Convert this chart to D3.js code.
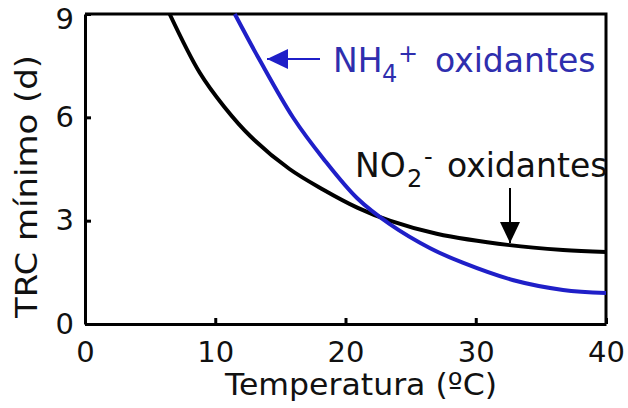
<!DOCTYPE html>
<meta charset="utf-8"/>
<style>
  body { margin: 0; background: #fff; }
  svg text { font-family: "DejaVu Sans", Verdana, sans-serif; }
  .axis path, .axis line { stroke: #000; stroke-width: 3px; }
  .axis text { font-size: 29px; fill: #111; }
</style>
<svg width="628" height="408"></svg>
<script src="https://cdnjs.cloudflare.com/ajax/libs/d3/7.8.5/d3.min.js"></script>
<script>

  // values
  var xTicks = [0, 10, 20, 30, 40];
  var yTicks = [0, 3, 6, 9];

  var no2Temp = [6.5, 8.8, 10.7, 12.7, 15.7, 18.3, 20.9, 23.4, 27.0, 32.6, 36.7, 40];
  var no2Trc  = [9.0, 7.3, 6.3, 5.45, 4.5, 3.9, 3.38, 3.0, 2.62, 2.29, 2.15, 2.09];

  var nh4Temp = [11.5, 13.4, 16.0, 18.3, 20.9, 23.4, 26.5, 29.0, 32.9, 36.7, 40];
  var nh4Trc  = [9.0, 7.67, 5.98, 4.8, 3.65, 2.9, 2.2, 1.78, 1.27, 0.99, 0.90];

  var blue = "#1f1fc8";

  var svg = d3.select("svg"),
    margin = {top: 14, right: 22, bottom: 84, left: 85},
    width = +svg.attr("width") - margin.left - margin.right,
    height = +svg.attr("height") - margin.top - margin.bottom;

  // arrow heads
  svg.append("defs").selectAll("marker")
    .data([{id: "arrBlack", c: "#000"}, {id: "arrBlue", c: blue}])
    .enter().append("marker")
    .attr("id", function (d) { return d.id; })
    .attr("viewBox", "0 -5 10 10")
    .attr("refX", 10)
    .attr("refY", 0)
    .attr("markerWidth", 21)
    .attr("markerHeight", 20)
    .attr("markerUnits", "userSpaceOnUse")
    .attr("orient", "auto")
    .attr("preserveAspectRatio", "none")
    .append("path")
    .attr("d", "M0,-5L10,0L0,5Z")
    .attr("fill", function (d) { return d.c; });

  var g = svg.append("g").attr("transform", "translate(" + margin.left + "," + margin.top + ")");

  var x = d3.scaleLinear().domain([0, 40]).range([0, width]);
  var y = d3.scaleLinear().domain([0, 9]).range([height, 0]);

  g.append("g")
    .attr("class", "axis")
    .attr("transform", "translate(0," + height + ")")
    .call(d3.axisBottom(x).tickValues(xTicks).tickSize(-6).tickSizeOuter(0).tickPadding(17));

  var yAxis = g.append("g")
    .attr("class", "axis")
    .call(d3.axisLeft(y).tickValues(yTicks).tickSize(-6).tickSizeOuter(0).tickPadding(11));
  // the top label sits a little lower in the original
  yAxis.selectAll(".tick text").filter(function (d) { return d === 9; }).attr("y", 5);

  // top and right border
  g.append("path")
    .attr("d", "M0,0H" + width + "V" + height)
    .attr("fill", "none")
    .attr("stroke", "#000")
    .attr("stroke-width", 3);

  var line = d3.line()
    .x(function (d) { return x(d[0]); })
    .y(function (d) { return y(d[1]); })
    .curve(d3.curveCatmullRom);

  g.append("path")
    .datum(d3.zip(no2Temp, no2Trc))
    .attr("fill", "none")
    .attr("stroke", "#000")
    .attr("stroke-width", 4)
    .attr("d", line);

  g.append("path")
    .datum(d3.zip(nh4Temp, nh4Trc))
    .attr("fill", "none")
    .attr("stroke", blue)
    .attr("stroke-width", 4)
    .attr("d", line);

  // NH4+ label and arrow
  svg.append("line")
    .attr("x1", 320).attr("y1", 59)
    .attr("x2", 267).attr("y2", 59)
    .attr("stroke", blue)
    .attr("stroke-width", 2)
    .attr("marker-end", "url(#arrBlue)");

  var t1 = svg.append("text")
    .attr("y", 72)
    .attr("font-size", 33)
    .attr("fill", "#2e2eae");
  t1.append("tspan").attr("x", 333).text("NH");
  t1.append("tspan").attr("x", 382).attr("dy", 10).attr("font-size", 24).text("4");
  t1.append("tspan").attr("x", 398).attr("dy", -20).attr("font-size", 24).text("+");
  t1.append("tspan").attr("x", 435).attr("dy", 10).text("oxidantes");

  // NO2- label and arrow
  svg.append("line")
    .attr("x1", 510).attr("y1", 188)
    .attr("x2", 510).attr("y2", 243)
    .attr("stroke", "#000")
    .attr("stroke-width", 2)
    .attr("marker-end", "url(#arrBlack)");

  var t2 = svg.append("text")
    .attr("y", 177)
    .attr("font-size", 33)
    .attr("fill", "#111");
  t2.append("tspan").attr("x", 355).text("NO");
  t2.append("tspan").attr("x", 407).attr("dy", 10).attr("font-size", 24).text("2");
  t2.append("tspan").attr("x", 424).attr("dy", -22).attr("font-size", 24).text("-");
  t2.append("tspan").attr("x", 447).attr("dy", 12).text("oxidantes");

  // axis titles
  svg.append("text")
    .attr("x", 225)
    .attr("y", 395)
    .attr("textLength", 272)
    .attr("lengthAdjust", "spacingAndGlyphs")
    .attr("font-size", 31)
    .attr("fill", "#111")
    .text("Temperatura (ºC)");

  svg.append("text")
    .attr("transform", "translate(37,318) rotate(-90)")
    .attr("textLength", 263)
    .attr("lengthAdjust", "spacingAndGlyphs")
    .attr("font-size", 31)
    .attr("fill", "#111")
    .text("TRC mínimo (d)");

</script>
